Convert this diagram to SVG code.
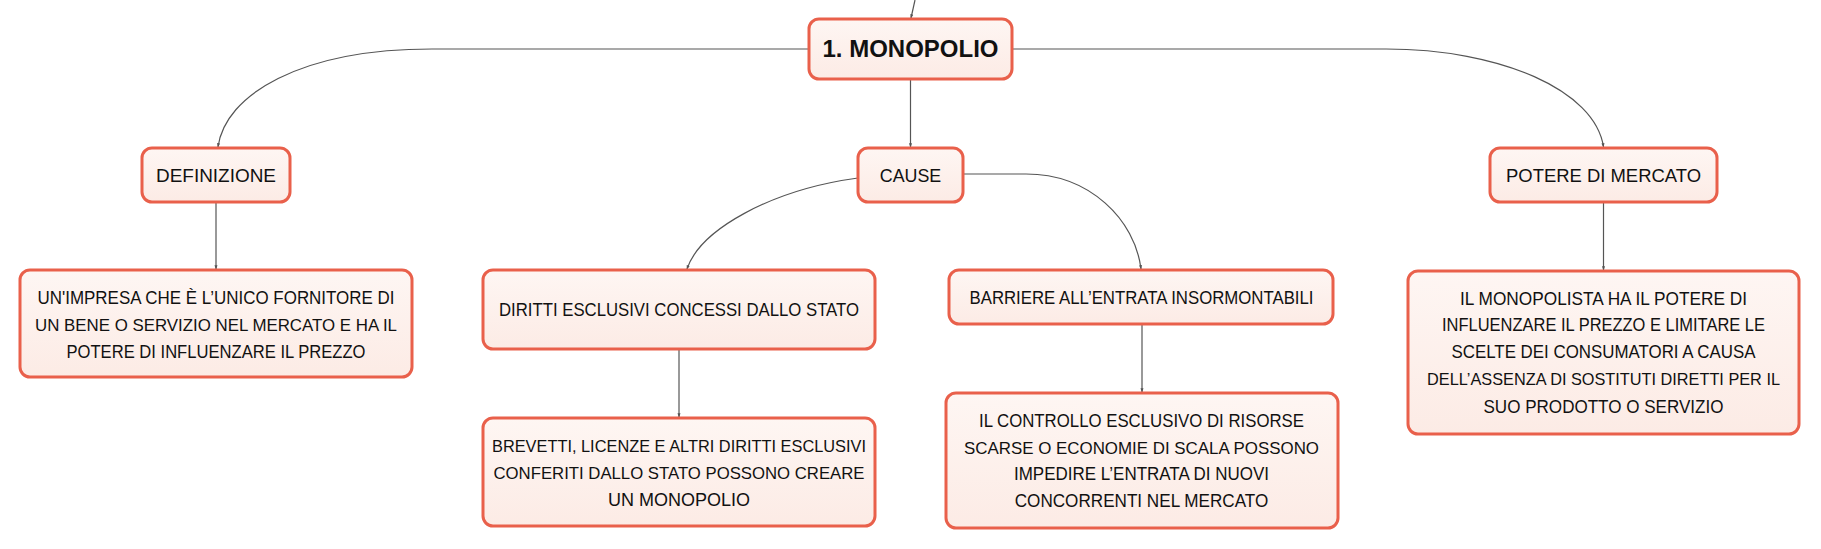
<svg xmlns="http://www.w3.org/2000/svg" width="1821" height="549" viewBox="0 0 1821 549">
<defs>
<marker id="arr" viewBox="0 0 6 6" refX="5" refY="3" markerWidth="4.5" markerHeight="4.5" markerUnits="userSpaceOnUse" orient="auto">
<path d="M0,1 L6,3 L0,5 Z" fill="#555"/>
</marker>
<linearGradient id="fillg" x1="0" y1="0" x2="0" y2="1">
<stop offset="0" stop-color="#fef6f3"/>
<stop offset="1" stop-color="#fcebe5"/>
</linearGradient>
</defs>
<style>
.box{fill:url(#fillg);stroke:#e9604b;stroke-width:3}
.t{font-family:"Liberation Sans",Arial,sans-serif;font-size:18.5px;fill:#111;text-anchor:middle}
.t.s{font-size:17px}
.root{font-family:"Liberation Sans",Arial,sans-serif;font-size:24px;font-weight:bold;fill:#111;text-anchor:middle}
.c{fill:none;stroke:#555;stroke-width:1.2}
</style>
<rect width="1821" height="549" fill="#ffffff"/>
<g id="connectors">
<path class="c" d="M915,0 Q913,9 911,18" marker-end="url(#arr)"/>
<path class="c" d="M809,49 L432,49 C300,49 225,95 218,147" marker-end="url(#arr)"/>
<path class="c" d="M910.5,79 L910.5,147" marker-end="url(#arr)"/>
<path class="c" d="M1012,49 L1386,49 C1500,49 1595,90 1603.5,147" marker-end="url(#arr)"/>
<path class="c" d="M216,202 L216,269" marker-end="url(#arr)"/>
<path class="c" d="M858,178 C770,190 700,230 687,269" marker-end="url(#arr)"/>
<path class="c" d="M963,174 L1026,174 C1090,174 1135,220 1141,269" marker-end="url(#arr)"/>
<path class="c" d="M1603.5,202 L1603.5,270" marker-end="url(#arr)"/>
<path class="c" d="M679,349 L679,417" marker-end="url(#arr)"/>
<path class="c" d="M1142,324 L1142,392" marker-end="url(#arr)"/>
</g>
<g id="node-root">
<rect class="box" x="809" y="19" width="203" height="60" rx="10"/>
<text class="root" x="910.5" y="57" textLength="176" lengthAdjust="spacingAndGlyphs">1. MONOPOLIO</text>
</g>
<g id="node-definizione">
<rect class="box" x="142" y="148" width="148" height="54" rx="10"/>
<text class="t" x="216" y="181.5" textLength="120" lengthAdjust="spacingAndGlyphs">DEFINIZIONE</text>
</g>
<g id="node-cause">
<rect class="box" x="858" y="148" width="105" height="54" rx="10"/>
<text class="t" x="910.5" y="181.5" textLength="61.5" lengthAdjust="spacingAndGlyphs">CAUSE</text>
</g>
<g id="node-potere">
<rect class="box" x="1490" y="148" width="227" height="54" rx="10"/>
<text class="t" x="1603.5" y="181.5" textLength="195" lengthAdjust="spacingAndGlyphs">POTERE DI MERCATO</text>
</g>
<g id="node-impresa">
<rect class="box" x="20" y="270" width="392" height="107" rx="10"/>
<text class="t" x="216" y="303.5" textLength="357" lengthAdjust="spacingAndGlyphs">UN'IMPRESA CHE È L’UNICO FORNITORE DI</text>
<text class="t s" x="216" y="330.5" textLength="362" lengthAdjust="spacingAndGlyphs">UN BENE O SERVIZIO NEL MERCATO E HA IL</text>
<text class="t" x="216" y="357.5" textLength="299" lengthAdjust="spacingAndGlyphs">POTERE DI INFLUENZARE IL PREZZO</text>
</g>
<g id="node-diritti">
<rect class="box" x="483" y="270" width="392" height="79" rx="10"/>
<text class="t" x="679" y="316" textLength="360" lengthAdjust="spacingAndGlyphs">DIRITTI ESCLUSIVI CONCESSI DALLO STATO</text>
</g>
<g id="node-brevetti">
<rect class="box" x="483" y="418" width="392" height="108" rx="10"/>
<text class="t s" x="679" y="452" textLength="374" lengthAdjust="spacingAndGlyphs">BREVETTI, LICENZE E ALTRI DIRITTI ESCLUSIVI</text>
<text class="t s" x="679" y="478.5" textLength="371" lengthAdjust="spacingAndGlyphs">CONFERITI DALLO STATO POSSONO CREARE</text>
<text class="t" x="679" y="505.5" textLength="142" lengthAdjust="spacingAndGlyphs">UN MONOPOLIO</text>
</g>
<g id="node-barriere">
<rect class="box" x="949" y="270" width="384" height="54" rx="10"/>
<text class="t" x="1141.5" y="303.5" textLength="344" lengthAdjust="spacingAndGlyphs">BARRIERE ALL’ENTRATA INSORMONTABILI</text>
</g>
<g id="node-controllo">
<rect class="box" x="946" y="393" width="392" height="135" rx="10"/>
<text class="t" x="1141.5" y="427" textLength="325" lengthAdjust="spacingAndGlyphs">IL CONTROLLO ESCLUSIVO DI RISORSE</text>
<text class="t s" x="1141.5" y="453.5" textLength="355" lengthAdjust="spacingAndGlyphs">SCARSE O ECONOMIE DI SCALA POSSONO</text>
<text class="t" x="1141.5" y="480" textLength="255" lengthAdjust="spacingAndGlyphs">IMPEDIRE L’ENTRATA DI NUOVI</text>
<text class="t" x="1141.5" y="507" textLength="253.5" lengthAdjust="spacingAndGlyphs">CONCORRENTI NEL MERCATO</text>
</g>
<g id="node-monopolista">
<rect class="box" x="1408" y="271" width="391" height="163" rx="10"/>
<text class="t" x="1603.5" y="304.5" textLength="287" lengthAdjust="spacingAndGlyphs">IL MONOPOLISTA HA IL POTERE DI</text>
<text class="t" x="1603.5" y="331" textLength="323" lengthAdjust="spacingAndGlyphs">INFLUENZARE IL PREZZO E LIMITARE LE</text>
<text class="t" x="1603.5" y="358" textLength="304" lengthAdjust="spacingAndGlyphs">SCELTE DEI CONSUMATORI A CAUSA</text>
<text class="t s" x="1603.5" y="385" textLength="353" lengthAdjust="spacingAndGlyphs">DELL’ASSENZA DI SOSTITUTI DIRETTI PER IL</text>
<text class="t" x="1603.5" y="412.5" textLength="240" lengthAdjust="spacingAndGlyphs">SUO PRODOTTO O SERVIZIO</text>
</g>
</svg>
